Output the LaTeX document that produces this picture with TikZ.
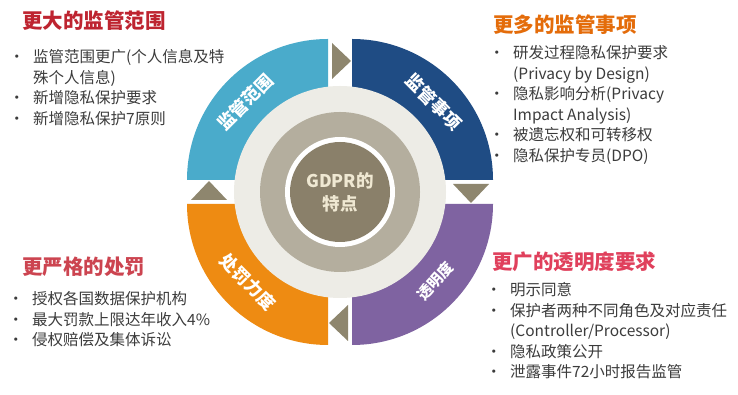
\documentclass[tikz,border=0pt]{standalone}
\usepackage{fontspec}
\setmainfont{Noto Sans CJK SC}
\definecolor{scopeblue}{HTML}{4AABCB}
\definecolor{itemnavy}{HTML}{1F4C84}
\definecolor{clearpurple}{HTML}{7F63A1}
\definecolor{fineorange}{HTML}{EE8B12}
\definecolor{arrowgray}{HTML}{8E866E}
\definecolor{ringlight}{HTML}{EDECE6}
\definecolor{ringmid}{HTML}{B4AE9E}
\definecolor{coregray}{HTML}{8A806A}
\definecolor{coretext}{HTML}{EFE8D2}
\definecolor{bodygray}{HTML}{3C3C3C}
\definecolor{headred}{HTML}{BE2430}
\definecolor{headorange}{HTML}{E46C0A}
\definecolor{headrose}{HTML}{CC4450}
\definecolor{headpink}{HTML}{E0405C}
\newcommand{\bul}{\llap{•\hspace{8.5pt}}}
\begin{document}
\begin{tikzpicture}[x=1pt,y=1pt,
    quadlabel/.style={text=white, inner sep=0pt, font=\bfseries\fontsize{17.5}{18}\selectfont},
    heading/.style={anchor=base west, inner sep=0pt, font=\bfseries\fontsize{20.5}{24}\selectfont},
    itemlist/.style={anchor=base west, inner sep=0pt, text=bodygray, font=\fontsize{15.5}{20.5}\selectfont}]
  \useasboundingbox[fill=white] (0,0) rectangle (738,395);
  % Ring, centred at (340,203)
  \begin{scope}[shift={(340,203)}]
    % four quarters
    \foreach \a/\col in {90/scopeblue, 0/itemnavy, -90/clearpurple, 180/fineorange}
      \fill[\col] ({\a+45}:16.97) -- ++(\a:141) arc[start angle=\a, end angle=\a+90, radius=141] -- cycle;
    % arrows in the gaps
    \foreach \r in {0,-90,-180,-270}
      \fill[arrowgray, rotate=\r] (-8,113) -- (-8,149) -- (11,131) -- cycle;
    % inner rings
    \fill[ringlight] (0,0) circle[radius=106];
    \fill[ringmid] (0,0) circle[radius=80];
    \fill[white] (0,0) circle[radius=55];
    \fill[coregray] (0,0) circle[radius=50];
    \node[text=coretext, align=center, font=\bfseries\fontsize{17.5}{23}\selectfont] (core) at (0,0) {GDPR的\\特点};
    % quarter labels
    \node[quadlabel, rotate=45] (scope) at (-95,90) {监管范围};
    \node[quadlabel, rotate=-45] (items) at (94,90) {监管事项};
    \node[quadlabel, rotate=48, font=\bfseries\fontsize{15}{16}\selectfont] (clarity) at (95,-89) {透明度};
    \node[quadlabel, rotate=-45] (penalty) at (-92,-90) {处罚力度};
  \end{scope}
  % headings
  \node[heading, text=headred] (scopehead) at (22,366) {更大的监管范围};
  \node[heading, text=headorange] (itemshead) at (493,362) {更多的监管事项};
  \node[heading, text=headrose] (penaltyhead) at (22,120) {更严格的处罚};
  \node[heading, text=headpink] (clarityhead) at (492,125) {更广的透明度要求};
  % lists
  \node[itemlist] (scopelist) at (33,332) {\begin{tabular}[t]{@{}l@{}}
    \bul 监管范围更广(个人信息及特\\
    殊个人信息)\\
    \bul 新增隐私保护要求\\
    \bul 新增隐私保护7原则
  \end{tabular}};
  \node[itemlist] (itemslist) at (513,336) {\begin{tabular}[t]{@{}l@{}}
    \bul 研发过程隐私保护要求\\
    (Privacy by Design)\\
    \bul 隐私影响分析(Privacy\\
    Impact Analysis)\\
    \bul 被遗忘权和可转移权\\
    \bul 隐私保护专员(DPO)
  \end{tabular}};
  \node[itemlist] (penaltylist) at (32,90) {\begin{tabular}[t]{@{}l@{}}
    \bul 授权各国数据保护机构\\
    \bul 最大罚款上限达年收入4\%\\
    \bul 侵权赔偿及集体诉讼
  \end{tabular}};
  \node[itemlist] (claritylist) at (510,99) {\begin{tabular}[t]{@{}l@{}}
    \bul 明示同意\\
    \bul 保护者两种不同角色及对应责任\\
    (Controller/Processor)\\
    \bul 隐私政策公开\\
    \bul 泄露事件72小时报告监管
  \end{tabular}};
\end{tikzpicture}
\end{document}
